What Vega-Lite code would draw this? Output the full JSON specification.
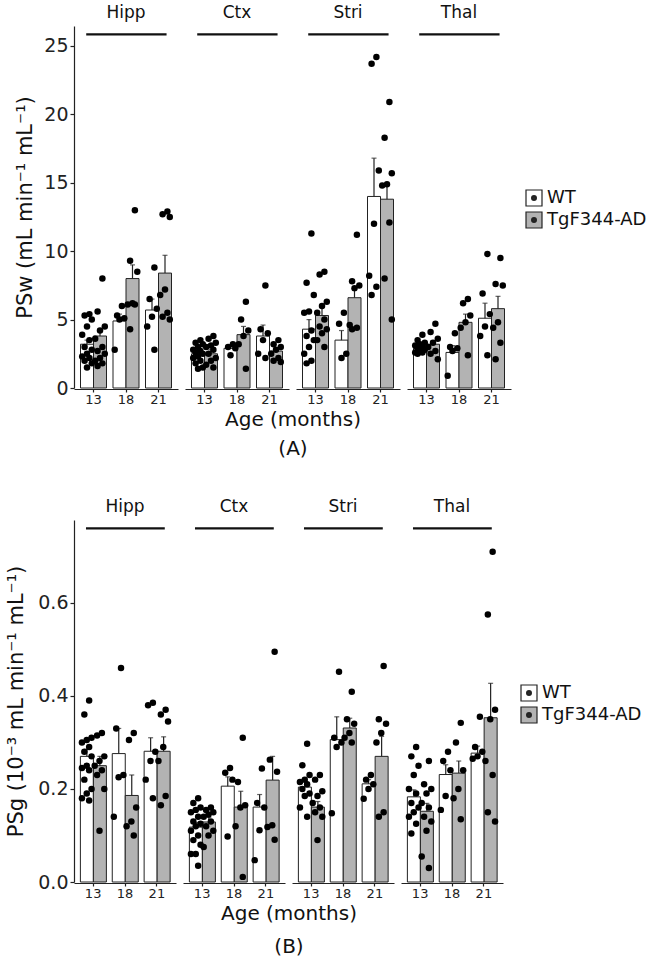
{
  "$schema": "https://vega.github.io/schema/vega-lite/v6.json",
  "padding": {"left": 5, "top": 4, "right": 5, "bottom": 2},
  "config": {
    "font": "DejaVu Sans",
    "view": {"stroke": null},
    "axis": {"grid": false, "domainColor": "#222", "tickColor": "#222", "labelColor": "#222", "titleColor": "#111", "titleFontWeight": "normal", "domainWidth": 1.2, "tickWidth": 1.2},
    "header": {"labelColor": "#111", "titleColor": "#111", "titleFontWeight": "normal"},
    "legend": {"labelColor": "#111"}
  },
  "datasets": {
    "A": [
      {"region":"Hipp","age":"13","group":"WT","kind":"bar","value":3.2,"upper":3.5},
      {"region":"Hipp","age":"13","group":"TgF344-AD","kind":"bar","value":3.8,"upper":4.3},
      {"region":"Hipp","age":"18","group":"WT","kind":"bar","value":4.9,"upper":5.4},
      {"region":"Hipp","age":"18","group":"TgF344-AD","kind":"bar","value":8.0,"upper":9.0},
      {"region":"Hipp","age":"21","group":"WT","kind":"bar","value":5.7,"upper":6.5},
      {"region":"Hipp","age":"21","group":"TgF344-AD","kind":"bar","value":8.4,"upper":9.7},
      {"region":"Ctx","age":"13","group":"WT","kind":"bar","value":2.5,"upper":2.7},
      {"region":"Ctx","age":"13","group":"TgF344-AD","kind":"bar","value":2.5,"upper":2.8},
      {"region":"Ctx","age":"18","group":"WT","kind":"bar","value":2.9,"upper":3.1},
      {"region":"Ctx","age":"18","group":"TgF344-AD","kind":"bar","value":3.9,"upper":4.5},
      {"region":"Ctx","age":"21","group":"WT","kind":"bar","value":3.8,"upper":4.6},
      {"region":"Ctx","age":"21","group":"TgF344-AD","kind":"bar","value":2.7,"upper":2.95},
      {"region":"Stri","age":"13","group":"WT","kind":"bar","value":4.3,"upper":5.0},
      {"region":"Stri","age":"13","group":"TgF344-AD","kind":"bar","value":5.3,"upper":5.9},
      {"region":"Stri","age":"18","group":"WT","kind":"bar","value":3.5,"upper":4.2},
      {"region":"Stri","age":"18","group":"TgF344-AD","kind":"bar","value":6.6,"upper":7.4},
      {"region":"Stri","age":"21","group":"WT","kind":"bar","value":14.0,"upper":16.8},
      {"region":"Stri","age":"21","group":"TgF344-AD","kind":"bar","value":13.8,"upper":14.9},
      {"region":"Thal","age":"13","group":"WT","kind":"bar","value":2.9,"upper":3.1},
      {"region":"Thal","age":"13","group":"TgF344-AD","kind":"bar","value":3.2,"upper":3.45},
      {"region":"Thal","age":"18","group":"WT","kind":"bar","value":2.6,"upper":3.1},
      {"region":"Thal","age":"18","group":"TgF344-AD","kind":"bar","value":4.8,"upper":5.4},
      {"region":"Thal","age":"21","group":"WT","kind":"bar","value":5.1,"upper":6.2},
      {"region":"Thal","age":"21","group":"TgF344-AD","kind":"bar","value":5.8,"upper":6.7},

      {"region":"Hipp","age":"13","group":"WT","kind":"pt","value":5.4},
      {"region":"Hipp","age":"13","group":"WT","kind":"pt","value":5.3},
      {"region":"Hipp","age":"13","group":"WT","kind":"pt","value":5.0},
      {"region":"Hipp","age":"13","group":"WT","kind":"pt","value":4.5},
      {"region":"Hipp","age":"13","group":"WT","kind":"pt","value":3.9},
      {"region":"Hipp","age":"13","group":"WT","kind":"pt","value":3.5},
      {"region":"Hipp","age":"13","group":"WT","kind":"pt","value":3.0},
      {"region":"Hipp","age":"13","group":"WT","kind":"pt","value":2.8},
      {"region":"Hipp","age":"13","group":"WT","kind":"pt","value":2.5},
      {"region":"Hipp","age":"13","group":"WT","kind":"pt","value":2.3},
      {"region":"Hipp","age":"13","group":"WT","kind":"pt","value":2.2},
      {"region":"Hipp","age":"13","group":"WT","kind":"pt","value":2.0},
      {"region":"Hipp","age":"13","group":"WT","kind":"pt","value":1.8},
      {"region":"Hipp","age":"13","group":"WT","kind":"pt","value":1.5},
      {"region":"Hipp","age":"13","group":"TgF344-AD","kind":"pt","value":8.0},
      {"region":"Hipp","age":"13","group":"TgF344-AD","kind":"pt","value":5.6},
      {"region":"Hipp","age":"13","group":"TgF344-AD","kind":"pt","value":4.5},
      {"region":"Hipp","age":"13","group":"TgF344-AD","kind":"pt","value":4.2},
      {"region":"Hipp","age":"13","group":"TgF344-AD","kind":"pt","value":3.6},
      {"region":"Hipp","age":"13","group":"TgF344-AD","kind":"pt","value":3.0},
      {"region":"Hipp","age":"13","group":"TgF344-AD","kind":"pt","value":2.7},
      {"region":"Hipp","age":"13","group":"TgF344-AD","kind":"pt","value":2.5},
      {"region":"Hipp","age":"13","group":"TgF344-AD","kind":"pt","value":2.2},
      {"region":"Hipp","age":"13","group":"TgF344-AD","kind":"pt","value":2.0},
      {"region":"Hipp","age":"13","group":"TgF344-AD","kind":"pt","value":1.8},
      {"region":"Hipp","age":"13","group":"TgF344-AD","kind":"pt","value":1.6},
      {"region":"Hipp","age":"18","group":"WT","kind":"pt","value":6.0},
      {"region":"Hipp","age":"18","group":"WT","kind":"pt","value":5.3},
      {"region":"Hipp","age":"18","group":"WT","kind":"pt","value":5.1},
      {"region":"Hipp","age":"18","group":"WT","kind":"pt","value":5.0},
      {"region":"Hipp","age":"18","group":"WT","kind":"pt","value":2.8},
      {"region":"Hipp","age":"18","group":"TgF344-AD","kind":"pt","value":13.0},
      {"region":"Hipp","age":"18","group":"TgF344-AD","kind":"pt","value":9.3},
      {"region":"Hipp","age":"18","group":"TgF344-AD","kind":"pt","value":8.5},
      {"region":"Hipp","age":"18","group":"TgF344-AD","kind":"pt","value":6.2},
      {"region":"Hipp","age":"18","group":"TgF344-AD","kind":"pt","value":6.1},
      {"region":"Hipp","age":"18","group":"TgF344-AD","kind":"pt","value":6.1},
      {"region":"Hipp","age":"18","group":"TgF344-AD","kind":"pt","value":4.3},
      {"region":"Hipp","age":"21","group":"WT","kind":"pt","value":8.8},
      {"region":"Hipp","age":"21","group":"WT","kind":"pt","value":6.5},
      {"region":"Hipp","age":"21","group":"WT","kind":"pt","value":5.8},
      {"region":"Hipp","age":"21","group":"WT","kind":"pt","value":5.2},
      {"region":"Hipp","age":"21","group":"WT","kind":"pt","value":4.5},
      {"region":"Hipp","age":"21","group":"WT","kind":"pt","value":2.8},
      {"region":"Hipp","age":"21","group":"TgF344-AD","kind":"pt","value":12.9},
      {"region":"Hipp","age":"21","group":"TgF344-AD","kind":"pt","value":12.7},
      {"region":"Hipp","age":"21","group":"TgF344-AD","kind":"pt","value":12.5},
      {"region":"Hipp","age":"21","group":"TgF344-AD","kind":"pt","value":7.2},
      {"region":"Hipp","age":"21","group":"TgF344-AD","kind":"pt","value":6.8},
      {"region":"Hipp","age":"21","group":"TgF344-AD","kind":"pt","value":5.5},
      {"region":"Hipp","age":"21","group":"TgF344-AD","kind":"pt","value":5.2},
      {"region":"Hipp","age":"21","group":"TgF344-AD","kind":"pt","value":5.0},

      {"region":"Ctx","age":"13","group":"WT","kind":"pt","value":3.5},
      {"region":"Ctx","age":"13","group":"WT","kind":"pt","value":3.3},
      {"region":"Ctx","age":"13","group":"WT","kind":"pt","value":3.2},
      {"region":"Ctx","age":"13","group":"WT","kind":"pt","value":3.0},
      {"region":"Ctx","age":"13","group":"WT","kind":"pt","value":2.8},
      {"region":"Ctx","age":"13","group":"WT","kind":"pt","value":2.7},
      {"region":"Ctx","age":"13","group":"WT","kind":"pt","value":2.6},
      {"region":"Ctx","age":"13","group":"WT","kind":"pt","value":2.5},
      {"region":"Ctx","age":"13","group":"WT","kind":"pt","value":2.3},
      {"region":"Ctx","age":"13","group":"WT","kind":"pt","value":2.2},
      {"region":"Ctx","age":"13","group":"WT","kind":"pt","value":2.0},
      {"region":"Ctx","age":"13","group":"WT","kind":"pt","value":1.8},
      {"region":"Ctx","age":"13","group":"WT","kind":"pt","value":1.5},
      {"region":"Ctx","age":"13","group":"WT","kind":"pt","value":1.4},
      {"region":"Ctx","age":"13","group":"TgF344-AD","kind":"pt","value":3.8},
      {"region":"Ctx","age":"13","group":"TgF344-AD","kind":"pt","value":3.6},
      {"region":"Ctx","age":"13","group":"TgF344-AD","kind":"pt","value":3.3},
      {"region":"Ctx","age":"13","group":"TgF344-AD","kind":"pt","value":3.1},
      {"region":"Ctx","age":"13","group":"TgF344-AD","kind":"pt","value":3.0},
      {"region":"Ctx","age":"13","group":"TgF344-AD","kind":"pt","value":2.8},
      {"region":"Ctx","age":"13","group":"TgF344-AD","kind":"pt","value":2.5},
      {"region":"Ctx","age":"13","group":"TgF344-AD","kind":"pt","value":2.2},
      {"region":"Ctx","age":"13","group":"TgF344-AD","kind":"pt","value":2.0},
      {"region":"Ctx","age":"13","group":"TgF344-AD","kind":"pt","value":1.7},
      {"region":"Ctx","age":"13","group":"TgF344-AD","kind":"pt","value":1.5},
      {"region":"Ctx","age":"18","group":"WT","kind":"pt","value":3.2},
      {"region":"Ctx","age":"18","group":"WT","kind":"pt","value":3.0},
      {"region":"Ctx","age":"18","group":"WT","kind":"pt","value":2.9},
      {"region":"Ctx","age":"18","group":"WT","kind":"pt","value":2.4},
      {"region":"Ctx","age":"18","group":"TgF344-AD","kind":"pt","value":6.3},
      {"region":"Ctx","age":"18","group":"TgF344-AD","kind":"pt","value":5.0},
      {"region":"Ctx","age":"18","group":"TgF344-AD","kind":"pt","value":4.2},
      {"region":"Ctx","age":"18","group":"TgF344-AD","kind":"pt","value":3.8},
      {"region":"Ctx","age":"18","group":"TgF344-AD","kind":"pt","value":3.2},
      {"region":"Ctx","age":"18","group":"TgF344-AD","kind":"pt","value":1.4},
      {"region":"Ctx","age":"21","group":"WT","kind":"pt","value":7.5},
      {"region":"Ctx","age":"21","group":"WT","kind":"pt","value":4.3},
      {"region":"Ctx","age":"21","group":"WT","kind":"pt","value":4.0},
      {"region":"Ctx","age":"21","group":"WT","kind":"pt","value":3.5},
      {"region":"Ctx","age":"21","group":"WT","kind":"pt","value":2.5},
      {"region":"Ctx","age":"21","group":"WT","kind":"pt","value":2.2},
      {"region":"Ctx","age":"21","group":"TgF344-AD","kind":"pt","value":3.5},
      {"region":"Ctx","age":"21","group":"TgF344-AD","kind":"pt","value":3.2},
      {"region":"Ctx","age":"21","group":"TgF344-AD","kind":"pt","value":3.0},
      {"region":"Ctx","age":"21","group":"TgF344-AD","kind":"pt","value":2.8},
      {"region":"Ctx","age":"21","group":"TgF344-AD","kind":"pt","value":2.5},
      {"region":"Ctx","age":"21","group":"TgF344-AD","kind":"pt","value":2.2},
      {"region":"Ctx","age":"21","group":"TgF344-AD","kind":"pt","value":2.0},
      {"region":"Ctx","age":"21","group":"TgF344-AD","kind":"pt","value":1.9},

      {"region":"Stri","age":"13","group":"WT","kind":"pt","value":11.3},
      {"region":"Stri","age":"13","group":"WT","kind":"pt","value":7.7},
      {"region":"Stri","age":"13","group":"WT","kind":"pt","value":6.8},
      {"region":"Stri","age":"13","group":"WT","kind":"pt","value":5.6},
      {"region":"Stri","age":"13","group":"WT","kind":"pt","value":5.5},
      {"region":"Stri","age":"13","group":"WT","kind":"pt","value":4.2},
      {"region":"Stri","age":"13","group":"WT","kind":"pt","value":3.8},
      {"region":"Stri","age":"13","group":"WT","kind":"pt","value":3.5},
      {"region":"Stri","age":"13","group":"WT","kind":"pt","value":3.0},
      {"region":"Stri","age":"13","group":"WT","kind":"pt","value":2.5},
      {"region":"Stri","age":"13","group":"WT","kind":"pt","value":2.0},
      {"region":"Stri","age":"13","group":"WT","kind":"pt","value":1.8},
      {"region":"Stri","age":"13","group":"TgF344-AD","kind":"pt","value":8.5},
      {"region":"Stri","age":"13","group":"TgF344-AD","kind":"pt","value":8.3},
      {"region":"Stri","age":"13","group":"TgF344-AD","kind":"pt","value":6.3},
      {"region":"Stri","age":"13","group":"TgF344-AD","kind":"pt","value":6.0},
      {"region":"Stri","age":"13","group":"TgF344-AD","kind":"pt","value":5.5},
      {"region":"Stri","age":"13","group":"TgF344-AD","kind":"pt","value":5.0},
      {"region":"Stri","age":"13","group":"TgF344-AD","kind":"pt","value":4.5},
      {"region":"Stri","age":"13","group":"TgF344-AD","kind":"pt","value":4.3},
      {"region":"Stri","age":"13","group":"TgF344-AD","kind":"pt","value":4.0},
      {"region":"Stri","age":"13","group":"TgF344-AD","kind":"pt","value":3.5},
      {"region":"Stri","age":"13","group":"TgF344-AD","kind":"pt","value":3.0},
      {"region":"Stri","age":"18","group":"WT","kind":"pt","value":5.5},
      {"region":"Stri","age":"18","group":"WT","kind":"pt","value":4.7},
      {"region":"Stri","age":"18","group":"WT","kind":"pt","value":2.5},
      {"region":"Stri","age":"18","group":"WT","kind":"pt","value":2.2},
      {"region":"Stri","age":"18","group":"TgF344-AD","kind":"pt","value":11.2},
      {"region":"Stri","age":"18","group":"TgF344-AD","kind":"pt","value":7.8},
      {"region":"Stri","age":"18","group":"TgF344-AD","kind":"pt","value":7.5},
      {"region":"Stri","age":"18","group":"TgF344-AD","kind":"pt","value":7.3},
      {"region":"Stri","age":"18","group":"TgF344-AD","kind":"pt","value":4.6},
      {"region":"Stri","age":"18","group":"TgF344-AD","kind":"pt","value":4.4},
      {"region":"Stri","age":"18","group":"TgF344-AD","kind":"pt","value":4.3},
      {"region":"Stri","age":"21","group":"WT","kind":"pt","value":24.2},
      {"region":"Stri","age":"21","group":"WT","kind":"pt","value":23.7},
      {"region":"Stri","age":"21","group":"WT","kind":"pt","value":15.9},
      {"region":"Stri","age":"21","group":"WT","kind":"pt","value":12.0},
      {"region":"Stri","age":"21","group":"WT","kind":"pt","value":8.2},
      {"region":"Stri","age":"21","group":"WT","kind":"pt","value":7.4},
      {"region":"Stri","age":"21","group":"WT","kind":"pt","value":6.8},
      {"region":"Stri","age":"21","group":"TgF344-AD","kind":"pt","value":20.9},
      {"region":"Stri","age":"21","group":"TgF344-AD","kind":"pt","value":18.3},
      {"region":"Stri","age":"21","group":"TgF344-AD","kind":"pt","value":15.7},
      {"region":"Stri","age":"21","group":"TgF344-AD","kind":"pt","value":14.9},
      {"region":"Stri","age":"21","group":"TgF344-AD","kind":"pt","value":14.8},
      {"region":"Stri","age":"21","group":"TgF344-AD","kind":"pt","value":12.1},
      {"region":"Stri","age":"21","group":"TgF344-AD","kind":"pt","value":8.0},
      {"region":"Stri","age":"21","group":"TgF344-AD","kind":"pt","value":5.0},

      {"region":"Thal","age":"13","group":"WT","kind":"pt","value":3.9},
      {"region":"Thal","age":"13","group":"WT","kind":"pt","value":3.5},
      {"region":"Thal","age":"13","group":"WT","kind":"pt","value":3.3},
      {"region":"Thal","age":"13","group":"WT","kind":"pt","value":3.2},
      {"region":"Thal","age":"13","group":"WT","kind":"pt","value":3.1},
      {"region":"Thal","age":"13","group":"WT","kind":"pt","value":3.0},
      {"region":"Thal","age":"13","group":"WT","kind":"pt","value":2.9},
      {"region":"Thal","age":"13","group":"WT","kind":"pt","value":2.8},
      {"region":"Thal","age":"13","group":"WT","kind":"pt","value":2.7},
      {"region":"Thal","age":"13","group":"WT","kind":"pt","value":2.6},
      {"region":"Thal","age":"13","group":"WT","kind":"pt","value":2.6},
      {"region":"Thal","age":"13","group":"WT","kind":"pt","value":2.5},
      {"region":"Thal","age":"13","group":"TgF344-AD","kind":"pt","value":4.7},
      {"region":"Thal","age":"13","group":"TgF344-AD","kind":"pt","value":4.1},
      {"region":"Thal","age":"13","group":"TgF344-AD","kind":"pt","value":3.6},
      {"region":"Thal","age":"13","group":"TgF344-AD","kind":"pt","value":3.3},
      {"region":"Thal","age":"13","group":"TgF344-AD","kind":"pt","value":3.0},
      {"region":"Thal","age":"13","group":"TgF344-AD","kind":"pt","value":2.7},
      {"region":"Thal","age":"13","group":"TgF344-AD","kind":"pt","value":2.5},
      {"region":"Thal","age":"13","group":"TgF344-AD","kind":"pt","value":2.1},
      {"region":"Thal","age":"18","group":"WT","kind":"pt","value":4.0},
      {"region":"Thal","age":"18","group":"WT","kind":"pt","value":3.0},
      {"region":"Thal","age":"18","group":"WT","kind":"pt","value":2.9},
      {"region":"Thal","age":"18","group":"WT","kind":"pt","value":2.7},
      {"region":"Thal","age":"18","group":"WT","kind":"pt","value":0.9},
      {"region":"Thal","age":"18","group":"TgF344-AD","kind":"pt","value":6.5},
      {"region":"Thal","age":"18","group":"TgF344-AD","kind":"pt","value":6.2},
      {"region":"Thal","age":"18","group":"TgF344-AD","kind":"pt","value":5.3},
      {"region":"Thal","age":"18","group":"TgF344-AD","kind":"pt","value":4.8},
      {"region":"Thal","age":"18","group":"TgF344-AD","kind":"pt","value":4.4},
      {"region":"Thal","age":"18","group":"TgF344-AD","kind":"pt","value":2.4},
      {"region":"Thal","age":"21","group":"WT","kind":"pt","value":9.8},
      {"region":"Thal","age":"21","group":"WT","kind":"pt","value":6.9},
      {"region":"Thal","age":"21","group":"WT","kind":"pt","value":5.4},
      {"region":"Thal","age":"21","group":"WT","kind":"pt","value":4.5},
      {"region":"Thal","age":"21","group":"WT","kind":"pt","value":3.8},
      {"region":"Thal","age":"21","group":"WT","kind":"pt","value":2.4},
      {"region":"Thal","age":"21","group":"TgF344-AD","kind":"pt","value":9.5},
      {"region":"Thal","age":"21","group":"TgF344-AD","kind":"pt","value":7.6},
      {"region":"Thal","age":"21","group":"TgF344-AD","kind":"pt","value":7.5},
      {"region":"Thal","age":"21","group":"TgF344-AD","kind":"pt","value":4.8},
      {"region":"Thal","age":"21","group":"TgF344-AD","kind":"pt","value":4.4},
      {"region":"Thal","age":"21","group":"TgF344-AD","kind":"pt","value":3.3},
      {"region":"Thal","age":"21","group":"TgF344-AD","kind":"pt","value":2.1}
    ],
    "B": [
      {"region":"Hipp","age":"13","group":"WT","kind":"bar","value":0.27,"upper":0.285},
      {"region":"Hipp","age":"13","group":"TgF344-AD","kind":"bar","value":0.25,"upper":0.27},
      {"region":"Hipp","age":"18","group":"WT","kind":"bar","value":0.276,"upper":0.33},
      {"region":"Hipp","age":"18","group":"TgF344-AD","kind":"bar","value":0.186,"upper":0.23},
      {"region":"Hipp","age":"21","group":"WT","kind":"bar","value":0.281,"upper":0.31},
      {"region":"Hipp","age":"21","group":"TgF344-AD","kind":"bar","value":0.281,"upper":0.312},
      {"region":"Ctx","age":"13","group":"WT","kind":"bar","value":0.118,"upper":0.128},
      {"region":"Ctx","age":"13","group":"TgF344-AD","kind":"bar","value":0.129,"upper":0.139},
      {"region":"Ctx","age":"18","group":"WT","kind":"bar","value":0.206,"upper":0.226},
      {"region":"Ctx","age":"18","group":"TgF344-AD","kind":"bar","value":0.161,"upper":0.195},
      {"region":"Ctx","age":"21","group":"WT","kind":"bar","value":0.161,"upper":0.188},
      {"region":"Ctx","age":"21","group":"TgF344-AD","kind":"bar","value":0.219,"upper":0.27},
      {"region":"Stri","age":"13","group":"WT","kind":"bar","value":0.204,"upper":0.216},
      {"region":"Stri","age":"13","group":"TgF344-AD","kind":"bar","value":0.161,"upper":0.173},
      {"region":"Stri","age":"18","group":"WT","kind":"bar","value":0.306,"upper":0.355},
      {"region":"Stri","age":"18","group":"TgF344-AD","kind":"bar","value":0.331,"upper":0.352},
      {"region":"Stri","age":"21","group":"WT","kind":"bar","value":0.211,"upper":0.22},
      {"region":"Stri","age":"21","group":"TgF344-AD","kind":"bar","value":0.27,"upper":0.313},
      {"region":"Thal","age":"13","group":"WT","kind":"bar","value":0.183,"upper":0.198},
      {"region":"Thal","age":"13","group":"TgF344-AD","kind":"bar","value":0.152,"upper":0.169},
      {"region":"Thal","age":"18","group":"WT","kind":"bar","value":0.231,"upper":0.252},
      {"region":"Thal","age":"18","group":"TgF344-AD","kind":"bar","value":0.234,"upper":0.26},
      {"region":"Thal","age":"21","group":"WT","kind":"bar","value":0.277,"upper":0.292},
      {"region":"Thal","age":"21","group":"TgF344-AD","kind":"bar","value":0.353,"upper":0.427},

      {"region":"Hipp","age":"13","group":"WT","kind":"pt","value":0.39},
      {"region":"Hipp","age":"13","group":"WT","kind":"pt","value":0.36},
      {"region":"Hipp","age":"13","group":"WT","kind":"pt","value":0.31},
      {"region":"Hipp","age":"13","group":"WT","kind":"pt","value":0.305},
      {"region":"Hipp","age":"13","group":"WT","kind":"pt","value":0.30},
      {"region":"Hipp","age":"13","group":"WT","kind":"pt","value":0.29},
      {"region":"Hipp","age":"13","group":"WT","kind":"pt","value":0.28},
      {"region":"Hipp","age":"13","group":"WT","kind":"pt","value":0.27},
      {"region":"Hipp","age":"13","group":"WT","kind":"pt","value":0.25},
      {"region":"Hipp","age":"13","group":"WT","kind":"pt","value":0.245},
      {"region":"Hipp","age":"13","group":"WT","kind":"pt","value":0.24},
      {"region":"Hipp","age":"13","group":"WT","kind":"pt","value":0.22},
      {"region":"Hipp","age":"13","group":"WT","kind":"pt","value":0.20},
      {"region":"Hipp","age":"13","group":"WT","kind":"pt","value":0.19},
      {"region":"Hipp","age":"13","group":"WT","kind":"pt","value":0.18},
      {"region":"Hipp","age":"13","group":"WT","kind":"pt","value":0.175},
      {"region":"Hipp","age":"13","group":"TgF344-AD","kind":"pt","value":0.32},
      {"region":"Hipp","age":"13","group":"TgF344-AD","kind":"pt","value":0.315},
      {"region":"Hipp","age":"13","group":"TgF344-AD","kind":"pt","value":0.27},
      {"region":"Hipp","age":"13","group":"TgF344-AD","kind":"pt","value":0.26},
      {"region":"Hipp","age":"13","group":"TgF344-AD","kind":"pt","value":0.25},
      {"region":"Hipp","age":"13","group":"TgF344-AD","kind":"pt","value":0.24},
      {"region":"Hipp","age":"13","group":"TgF344-AD","kind":"pt","value":0.23},
      {"region":"Hipp","age":"13","group":"TgF344-AD","kind":"pt","value":0.20},
      {"region":"Hipp","age":"13","group":"TgF344-AD","kind":"pt","value":0.11},
      {"region":"Hipp","age":"18","group":"WT","kind":"pt","value":0.46},
      {"region":"Hipp","age":"18","group":"WT","kind":"pt","value":0.33},
      {"region":"Hipp","age":"18","group":"WT","kind":"pt","value":0.23},
      {"region":"Hipp","age":"18","group":"WT","kind":"pt","value":0.225},
      {"region":"Hipp","age":"18","group":"WT","kind":"pt","value":0.14},
      {"region":"Hipp","age":"18","group":"TgF344-AD","kind":"pt","value":0.32},
      {"region":"Hipp","age":"18","group":"TgF344-AD","kind":"pt","value":0.305},
      {"region":"Hipp","age":"18","group":"TgF344-AD","kind":"pt","value":0.16},
      {"region":"Hipp","age":"18","group":"TgF344-AD","kind":"pt","value":0.13},
      {"region":"Hipp","age":"18","group":"TgF344-AD","kind":"pt","value":0.12},
      {"region":"Hipp","age":"18","group":"TgF344-AD","kind":"pt","value":0.10},
      {"region":"Hipp","age":"21","group":"WT","kind":"pt","value":0.385},
      {"region":"Hipp","age":"21","group":"WT","kind":"pt","value":0.38},
      {"region":"Hipp","age":"21","group":"WT","kind":"pt","value":0.28},
      {"region":"Hipp","age":"21","group":"WT","kind":"pt","value":0.26},
      {"region":"Hipp","age":"21","group":"WT","kind":"pt","value":0.22},
      {"region":"Hipp","age":"21","group":"WT","kind":"pt","value":0.18},
      {"region":"Hipp","age":"21","group":"TgF344-AD","kind":"pt","value":0.37},
      {"region":"Hipp","age":"21","group":"TgF344-AD","kind":"pt","value":0.36},
      {"region":"Hipp","age":"21","group":"TgF344-AD","kind":"pt","value":0.345},
      {"region":"Hipp","age":"21","group":"TgF344-AD","kind":"pt","value":0.29},
      {"region":"Hipp","age":"21","group":"TgF344-AD","kind":"pt","value":0.26},
      {"region":"Hipp","age":"21","group":"TgF344-AD","kind":"pt","value":0.185},
      {"region":"Hipp","age":"21","group":"TgF344-AD","kind":"pt","value":0.165},

      {"region":"Ctx","age":"13","group":"WT","kind":"pt","value":0.18},
      {"region":"Ctx","age":"13","group":"WT","kind":"pt","value":0.17},
      {"region":"Ctx","age":"13","group":"WT","kind":"pt","value":0.16},
      {"region":"Ctx","age":"13","group":"WT","kind":"pt","value":0.155},
      {"region":"Ctx","age":"13","group":"WT","kind":"pt","value":0.15},
      {"region":"Ctx","age":"13","group":"WT","kind":"pt","value":0.14},
      {"region":"Ctx","age":"13","group":"WT","kind":"pt","value":0.13},
      {"region":"Ctx","age":"13","group":"WT","kind":"pt","value":0.125},
      {"region":"Ctx","age":"13","group":"WT","kind":"pt","value":0.12},
      {"region":"Ctx","age":"13","group":"WT","kind":"pt","value":0.11},
      {"region":"Ctx","age":"13","group":"WT","kind":"pt","value":0.10},
      {"region":"Ctx","age":"13","group":"WT","kind":"pt","value":0.09},
      {"region":"Ctx","age":"13","group":"WT","kind":"pt","value":0.08},
      {"region":"Ctx","age":"13","group":"WT","kind":"pt","value":0.06},
      {"region":"Ctx","age":"13","group":"WT","kind":"pt","value":0.06},
      {"region":"Ctx","age":"13","group":"WT","kind":"pt","value":0.035},
      {"region":"Ctx","age":"13","group":"TgF344-AD","kind":"pt","value":0.16},
      {"region":"Ctx","age":"13","group":"TgF344-AD","kind":"pt","value":0.155},
      {"region":"Ctx","age":"13","group":"TgF344-AD","kind":"pt","value":0.15},
      {"region":"Ctx","age":"13","group":"TgF344-AD","kind":"pt","value":0.145},
      {"region":"Ctx","age":"13","group":"TgF344-AD","kind":"pt","value":0.14},
      {"region":"Ctx","age":"13","group":"TgF344-AD","kind":"pt","value":0.13},
      {"region":"Ctx","age":"13","group":"TgF344-AD","kind":"pt","value":0.12},
      {"region":"Ctx","age":"13","group":"TgF344-AD","kind":"pt","value":0.11},
      {"region":"Ctx","age":"13","group":"TgF344-AD","kind":"pt","value":0.10},
      {"region":"Ctx","age":"13","group":"TgF344-AD","kind":"pt","value":0.075},
      {"region":"Ctx","age":"18","group":"WT","kind":"pt","value":0.245},
      {"region":"Ctx","age":"18","group":"WT","kind":"pt","value":0.235},
      {"region":"Ctx","age":"18","group":"WT","kind":"pt","value":0.22},
      {"region":"Ctx","age":"18","group":"WT","kind":"pt","value":0.098},
      {"region":"Ctx","age":"18","group":"TgF344-AD","kind":"pt","value":0.31},
      {"region":"Ctx","age":"18","group":"TgF344-AD","kind":"pt","value":0.215},
      {"region":"Ctx","age":"18","group":"TgF344-AD","kind":"pt","value":0.165},
      {"region":"Ctx","age":"18","group":"TgF344-AD","kind":"pt","value":0.16},
      {"region":"Ctx","age":"18","group":"TgF344-AD","kind":"pt","value":0.12},
      {"region":"Ctx","age":"18","group":"TgF344-AD","kind":"pt","value":0.011},
      {"region":"Ctx","age":"21","group":"WT","kind":"pt","value":0.244},
      {"region":"Ctx","age":"21","group":"WT","kind":"pt","value":0.17},
      {"region":"Ctx","age":"21","group":"WT","kind":"pt","value":0.16},
      {"region":"Ctx","age":"21","group":"WT","kind":"pt","value":0.111},
      {"region":"Ctx","age":"21","group":"WT","kind":"pt","value":0.047},
      {"region":"Ctx","age":"21","group":"TgF344-AD","kind":"pt","value":0.495},
      {"region":"Ctx","age":"21","group":"TgF344-AD","kind":"pt","value":0.263},
      {"region":"Ctx","age":"21","group":"TgF344-AD","kind":"pt","value":0.237},
      {"region":"Ctx","age":"21","group":"TgF344-AD","kind":"pt","value":0.122},
      {"region":"Ctx","age":"21","group":"TgF344-AD","kind":"pt","value":0.118},
      {"region":"Ctx","age":"21","group":"TgF344-AD","kind":"pt","value":0.091},

      {"region":"Stri","age":"13","group":"WT","kind":"pt","value":0.297},
      {"region":"Stri","age":"13","group":"WT","kind":"pt","value":0.251},
      {"region":"Stri","age":"13","group":"WT","kind":"pt","value":0.23},
      {"region":"Stri","age":"13","group":"WT","kind":"pt","value":0.22},
      {"region":"Stri","age":"13","group":"WT","kind":"pt","value":0.215},
      {"region":"Stri","age":"13","group":"WT","kind":"pt","value":0.21},
      {"region":"Stri","age":"13","group":"WT","kind":"pt","value":0.20},
      {"region":"Stri","age":"13","group":"WT","kind":"pt","value":0.19},
      {"region":"Stri","age":"13","group":"WT","kind":"pt","value":0.185},
      {"region":"Stri","age":"13","group":"WT","kind":"pt","value":0.16},
      {"region":"Stri","age":"13","group":"WT","kind":"pt","value":0.14},
      {"region":"Stri","age":"13","group":"TgF344-AD","kind":"pt","value":0.23},
      {"region":"Stri","age":"13","group":"TgF344-AD","kind":"pt","value":0.22},
      {"region":"Stri","age":"13","group":"TgF344-AD","kind":"pt","value":0.195},
      {"region":"Stri","age":"13","group":"TgF344-AD","kind":"pt","value":0.185},
      {"region":"Stri","age":"13","group":"TgF344-AD","kind":"pt","value":0.17},
      {"region":"Stri","age":"13","group":"TgF344-AD","kind":"pt","value":0.16},
      {"region":"Stri","age":"13","group":"TgF344-AD","kind":"pt","value":0.15},
      {"region":"Stri","age":"13","group":"TgF344-AD","kind":"pt","value":0.14},
      {"region":"Stri","age":"13","group":"TgF344-AD","kind":"pt","value":0.09},
      {"region":"Stri","age":"18","group":"WT","kind":"pt","value":0.452},
      {"region":"Stri","age":"18","group":"WT","kind":"pt","value":0.31},
      {"region":"Stri","age":"18","group":"WT","kind":"pt","value":0.30},
      {"region":"Stri","age":"18","group":"WT","kind":"pt","value":0.29},
      {"region":"Stri","age":"18","group":"WT","kind":"pt","value":0.148},
      {"region":"Stri","age":"18","group":"TgF344-AD","kind":"pt","value":0.409},
      {"region":"Stri","age":"18","group":"TgF344-AD","kind":"pt","value":0.35},
      {"region":"Stri","age":"18","group":"TgF344-AD","kind":"pt","value":0.34},
      {"region":"Stri","age":"18","group":"TgF344-AD","kind":"pt","value":0.32},
      {"region":"Stri","age":"18","group":"TgF344-AD","kind":"pt","value":0.31},
      {"region":"Stri","age":"18","group":"TgF344-AD","kind":"pt","value":0.30},
      {"region":"Stri","age":"21","group":"WT","kind":"pt","value":0.23},
      {"region":"Stri","age":"21","group":"WT","kind":"pt","value":0.22},
      {"region":"Stri","age":"21","group":"WT","kind":"pt","value":0.21},
      {"region":"Stri","age":"21","group":"WT","kind":"pt","value":0.20},
      {"region":"Stri","age":"21","group":"WT","kind":"pt","value":0.179},
      {"region":"Stri","age":"21","group":"TgF344-AD","kind":"pt","value":0.464},
      {"region":"Stri","age":"21","group":"TgF344-AD","kind":"pt","value":0.35},
      {"region":"Stri","age":"21","group":"TgF344-AD","kind":"pt","value":0.34},
      {"region":"Stri","age":"21","group":"TgF344-AD","kind":"pt","value":0.32},
      {"region":"Stri","age":"21","group":"TgF344-AD","kind":"pt","value":0.30},
      {"region":"Stri","age":"21","group":"TgF344-AD","kind":"pt","value":0.15},
      {"region":"Stri","age":"21","group":"TgF344-AD","kind":"pt","value":0.14},

      {"region":"Thal","age":"13","group":"WT","kind":"pt","value":0.29},
      {"region":"Thal","age":"13","group":"WT","kind":"pt","value":0.27},
      {"region":"Thal","age":"13","group":"WT","kind":"pt","value":0.25},
      {"region":"Thal","age":"13","group":"WT","kind":"pt","value":0.23},
      {"region":"Thal","age":"13","group":"WT","kind":"pt","value":0.20},
      {"region":"Thal","age":"13","group":"WT","kind":"pt","value":0.19},
      {"region":"Thal","age":"13","group":"WT","kind":"pt","value":0.17},
      {"region":"Thal","age":"13","group":"WT","kind":"pt","value":0.16},
      {"region":"Thal","age":"13","group":"WT","kind":"pt","value":0.15},
      {"region":"Thal","age":"13","group":"WT","kind":"pt","value":0.14},
      {"region":"Thal","age":"13","group":"WT","kind":"pt","value":0.125},
      {"region":"Thal","age":"13","group":"WT","kind":"pt","value":0.104},
      {"region":"Thal","age":"13","group":"TgF344-AD","kind":"pt","value":0.26},
      {"region":"Thal","age":"13","group":"TgF344-AD","kind":"pt","value":0.21},
      {"region":"Thal","age":"13","group":"TgF344-AD","kind":"pt","value":0.20},
      {"region":"Thal","age":"13","group":"TgF344-AD","kind":"pt","value":0.19},
      {"region":"Thal","age":"13","group":"TgF344-AD","kind":"pt","value":0.17},
      {"region":"Thal","age":"13","group":"TgF344-AD","kind":"pt","value":0.16},
      {"region":"Thal","age":"13","group":"TgF344-AD","kind":"pt","value":0.14},
      {"region":"Thal","age":"13","group":"TgF344-AD","kind":"pt","value":0.13},
      {"region":"Thal","age":"13","group":"TgF344-AD","kind":"pt","value":0.11},
      {"region":"Thal","age":"13","group":"TgF344-AD","kind":"pt","value":0.055},
      {"region":"Thal","age":"13","group":"TgF344-AD","kind":"pt","value":0.03},
      {"region":"Thal","age":"18","group":"WT","kind":"pt","value":0.28},
      {"region":"Thal","age":"18","group":"WT","kind":"pt","value":0.26},
      {"region":"Thal","age":"18","group":"WT","kind":"pt","value":0.24},
      {"region":"Thal","age":"18","group":"WT","kind":"pt","value":0.185},
      {"region":"Thal","age":"18","group":"WT","kind":"pt","value":0.155},
      {"region":"Thal","age":"18","group":"TgF344-AD","kind":"pt","value":0.342},
      {"region":"Thal","age":"18","group":"TgF344-AD","kind":"pt","value":0.30},
      {"region":"Thal","age":"18","group":"TgF344-AD","kind":"pt","value":0.24},
      {"region":"Thal","age":"18","group":"TgF344-AD","kind":"pt","value":0.20},
      {"region":"Thal","age":"18","group":"TgF344-AD","kind":"pt","value":0.18},
      {"region":"Thal","age":"18","group":"TgF344-AD","kind":"pt","value":0.135},
      {"region":"Thal","age":"21","group":"WT","kind":"pt","value":0.355},
      {"region":"Thal","age":"21","group":"WT","kind":"pt","value":0.29},
      {"region":"Thal","age":"21","group":"WT","kind":"pt","value":0.28},
      {"region":"Thal","age":"21","group":"WT","kind":"pt","value":0.27},
      {"region":"Thal","age":"21","group":"WT","kind":"pt","value":0.265},
      {"region":"Thal","age":"21","group":"TgF344-AD","kind":"pt","value":0.71},
      {"region":"Thal","age":"21","group":"TgF344-AD","kind":"pt","value":0.575},
      {"region":"Thal","age":"21","group":"TgF344-AD","kind":"pt","value":0.37},
      {"region":"Thal","age":"21","group":"TgF344-AD","kind":"pt","value":0.35},
      {"region":"Thal","age":"21","group":"TgF344-AD","kind":"pt","value":0.26},
      {"region":"Thal","age":"21","group":"TgF344-AD","kind":"pt","value":0.23},
      {"region":"Thal","age":"21","group":"TgF344-AD","kind":"pt","value":0.15},
      {"region":"Thal","age":"21","group":"TgF344-AD","kind":"pt","value":0.13}
    ]
  },
  "concat": [
    {
      "data": {"name": "A"},
      "facet": {"column": {"field": "region", "type": "nominal", "sort": ["Hipp", "Ctx", "Stri", "Thal"], "title": ["Age (months)", "(A)"],
        "header": {"labelOrient": "top", "titleOrient": "bottom", "labelFontSize": 17, "titleFontSize": 20, "titleLineHeight": 29, "labelPadding": 4, "titlePadding": -6}}},
      "spacing": 7,
      "spec": {
        "width": 104, "height": 362,
        "layer": [
          {
            "transform": [{"filter": "datum.kind == 'bar'"}],
            "mark": {"type": "bar", "stroke": "#222", "strokeWidth": 1},
            "encoding": {
              "x": {"field": "age", "type": "ordinal", "scale": {"paddingInner": 0.2, "paddingOuter": 0.2},
                "axis": {"title": null, "labelAngle": 0, "labelFontSize": 13, "tickSize": 3, "labelPadding": 1}},
              "xOffset": {"field": "group", "sort": ["WT", "TgF344-AD"]},
              "y": {"field": "value", "type": "quantitative", "scale": {"domain": [0, 26.46], "nice": false},
                "axis": {"values": [0, 5, 10, 15, 20, 25], "title": "PSw (mL min⁻¹ mL⁻¹)", "titleFontSize": 21, "labelFontSize": 19, "tickSize": 4, "labelPadding": 2, "titlePadding": 8}},
              "fill": {"field": "group", "type": "nominal", "scale": {"domain": ["WT", "TgF344-AD"], "range": ["#ffffff", "#b3b3b3"]},
                "legend": {"title": null, "orient": "none", "legendX": 451, "legendY": 163, "symbolType": "M-1,-1H1V1H-1Z M0.3,0A0.3,0.3,0,1,1,-0.3,0A0.3,0.3,0,1,1,0.3,0Z M0.16,0A0.16,0.16,0,1,1,-0.16,0A0.16,0.16,0,1,1,0.16,0Z M0.05,0A0.05,0.05,0,1,1,-0.05,0A0.05,0.05,0,1,1,0.05,0Z", "symbolSize": 256, "symbolStrokeColor": "#222", "symbolStrokeWidth": 1.2, "labelFontSize": 18, "rowPadding": 0, "symbolOffset": 0, "labelOffset": 4}}
            }
          },
          {
            "transform": [{"filter": "datum.kind == 'bar'"}],
            "mark": {"type": "rule", "color": "#222", "strokeWidth": 1.2},
            "encoding": {
              "x": {"field": "age", "type": "ordinal"},
              "xOffset": {"field": "group", "sort": ["WT", "TgF344-AD"]},
              "y": {"field": "value", "type": "quantitative"},
              "y2": {"field": "upper"}
            }
          },
          {
            "transform": [{"filter": "datum.kind == 'bar'"}],
            "mark": {"type": "tick", "orient": "horizontal", "color": "#222", "size": 5, "thickness": 1.2},
            "encoding": {
              "x": {"field": "age", "type": "ordinal"},
              "xOffset": {"field": "group", "sort": ["WT", "TgF344-AD"]},
              "y": {"field": "upper", "type": "quantitative"}
            }
          },
          {
            "transform": [{"filter": "datum.kind == 'pt' && datum.group == 'WT'"}, {"window": [{"op": "row_number", "as": "j"}], "groupby": ["region", "age", "group"]}],
            "mark": {"type": "circle", "size": 42, "color": "#000", "opacity": 1, "xOffset": {"expr": "(((datum.j * 3) % 5) - 2) * 2.4"}},
            "encoding": {
              "x": {"field": "age", "type": "ordinal", "bandPosition": 0.25},
              "y": {"field": "value", "type": "quantitative"}
            }
          },
          {
            "transform": [{"filter": "datum.kind == 'pt' && datum.group != 'WT'"}, {"window": [{"op": "row_number", "as": "j"}], "groupby": ["region", "age", "group"]}],
            "mark": {"type": "circle", "size": 42, "color": "#000", "opacity": 1, "xOffset": {"expr": "(((datum.j * 3) % 5) - 2) * 2.4"}},
            "encoding": {
              "x": {"field": "age", "type": "ordinal", "bandPosition": 0.75},
              "y": {"field": "value", "type": "quantitative"}
            }
          },
          {
            "transform": [{"filter": "datum.kind == 'bar' && datum.age == '13' && datum.group == 'WT'"}],
            "mark": {"type": "rule", "color": "#111", "strokeWidth": 2.2},
            "encoding": {
              "x": {"datum": "13", "type": "ordinal", "bandPosition": 0.22},
              "x2": {"datum": "21", "bandPosition": 0.81},
              "y": {"datum": 25.85, "type": "quantitative"}
            }
          }
        ]
      }
    },
    {
      "data": {"name": "B"},
      "facet": {"column": {"field": "region", "type": "nominal", "sort": ["Hipp", "Ctx", "Stri", "Thal"], "title": ["Age (months)", "(B)"],
        "header": {"labelOrient": "top", "titleOrient": "bottom", "labelFontSize": 17, "titleFontSize": 20, "titleLineHeight": 33, "labelPadding": 4, "titlePadding": -6}}},
      "spacing": 7,
      "spec": {
        "width": 102, "height": 362,
        "layer": [
          {
            "transform": [{"filter": "datum.kind == 'bar'"}],
            "mark": {"type": "bar", "stroke": "#222", "strokeWidth": 1},
            "encoding": {
              "x": {"field": "age", "type": "ordinal", "scale": {"paddingInner": 0.2, "paddingOuter": 0.2},
                "axis": {"title": null, "labelAngle": 0, "labelFontSize": 13, "tickSize": 3, "labelPadding": 1}},
              "xOffset": {"field": "group", "sort": ["WT", "TgF344-AD"]},
              "y": {"field": "value", "type": "quantitative", "scale": {"domain": [0, 0.778], "nice": false},
                "axis": {"values": [0, 0.2, 0.4, 0.6], "format": ".1f", "title": "PSg (10⁻³ mL min⁻¹ mL⁻¹)", "titleFontSize": 21, "labelFontSize": 19, "tickSize": 4, "labelPadding": 2, "titlePadding": 11}},
              "fill": {"field": "group", "type": "nominal", "scale": {"domain": ["WT", "TgF344-AD"], "range": ["#ffffff", "#b3b3b3"]},
                "legend": {"title": null, "orient": "none", "legendX": 446, "legendY": 164, "symbolType": "M-1,-1H1V1H-1Z M0.3,0A0.3,0.3,0,1,1,-0.3,0A0.3,0.3,0,1,1,0.3,0Z M0.16,0A0.16,0.16,0,1,1,-0.16,0A0.16,0.16,0,1,1,0.16,0Z M0.05,0A0.05,0.05,0,1,1,-0.05,0A0.05,0.05,0,1,1,0.05,0Z", "symbolSize": 256, "symbolStrokeColor": "#222", "symbolStrokeWidth": 1.2, "labelFontSize": 18, "rowPadding": 0, "symbolOffset": 0, "labelOffset": 4}}
            }
          },
          {
            "transform": [{"filter": "datum.kind == 'bar'"}],
            "mark": {"type": "rule", "color": "#222", "strokeWidth": 1.2},
            "encoding": {
              "x": {"field": "age", "type": "ordinal"},
              "xOffset": {"field": "group", "sort": ["WT", "TgF344-AD"]},
              "y": {"field": "value", "type": "quantitative"},
              "y2": {"field": "upper"}
            }
          },
          {
            "transform": [{"filter": "datum.kind == 'bar'"}],
            "mark": {"type": "tick", "orient": "horizontal", "color": "#222", "size": 5, "thickness": 1.2},
            "encoding": {
              "x": {"field": "age", "type": "ordinal"},
              "xOffset": {"field": "group", "sort": ["WT", "TgF344-AD"]},
              "y": {"field": "upper", "type": "quantitative"}
            }
          },
          {
            "transform": [{"filter": "datum.kind == 'pt' && datum.group == 'WT'"}, {"window": [{"op": "row_number", "as": "j"}], "groupby": ["region", "age", "group"]}],
            "mark": {"type": "circle", "size": 42, "color": "#000", "opacity": 1, "xOffset": {"expr": "(((datum.j * 3) % 5) - 2) * 2.4"}},
            "encoding": {
              "x": {"field": "age", "type": "ordinal", "bandPosition": 0.25},
              "y": {"field": "value", "type": "quantitative"}
            }
          },
          {
            "transform": [{"filter": "datum.kind == 'pt' && datum.group != 'WT'"}, {"window": [{"op": "row_number", "as": "j"}], "groupby": ["region", "age", "group"]}],
            "mark": {"type": "circle", "size": 42, "color": "#000", "opacity": 1, "xOffset": {"expr": "(((datum.j * 3) % 5) - 2) * 2.4"}},
            "encoding": {
              "x": {"field": "age", "type": "ordinal", "bandPosition": 0.75},
              "y": {"field": "value", "type": "quantitative"}
            }
          },
          {
            "transform": [{"filter": "datum.kind == 'bar' && datum.age == '13' && datum.group == 'WT'"}],
            "mark": {"type": "rule", "color": "#111", "strokeWidth": 2.2},
            "encoding": {
              "x": {"datum": "13", "type": "ordinal", "bandPosition": 0.22},
              "x2": {"datum": "21", "bandPosition": 0.81},
              "y": {"datum": 0.76, "type": "quantitative"}
            }
          }
        ]
      }
    }
  ],
  "columns": 1,
  "align": "none",
  "spacing": 39,
  "resolve": {"scale": {"fill": "independent", "x": "independent", "y": "independent"}, "legend": {"fill": "independent"}}
}
